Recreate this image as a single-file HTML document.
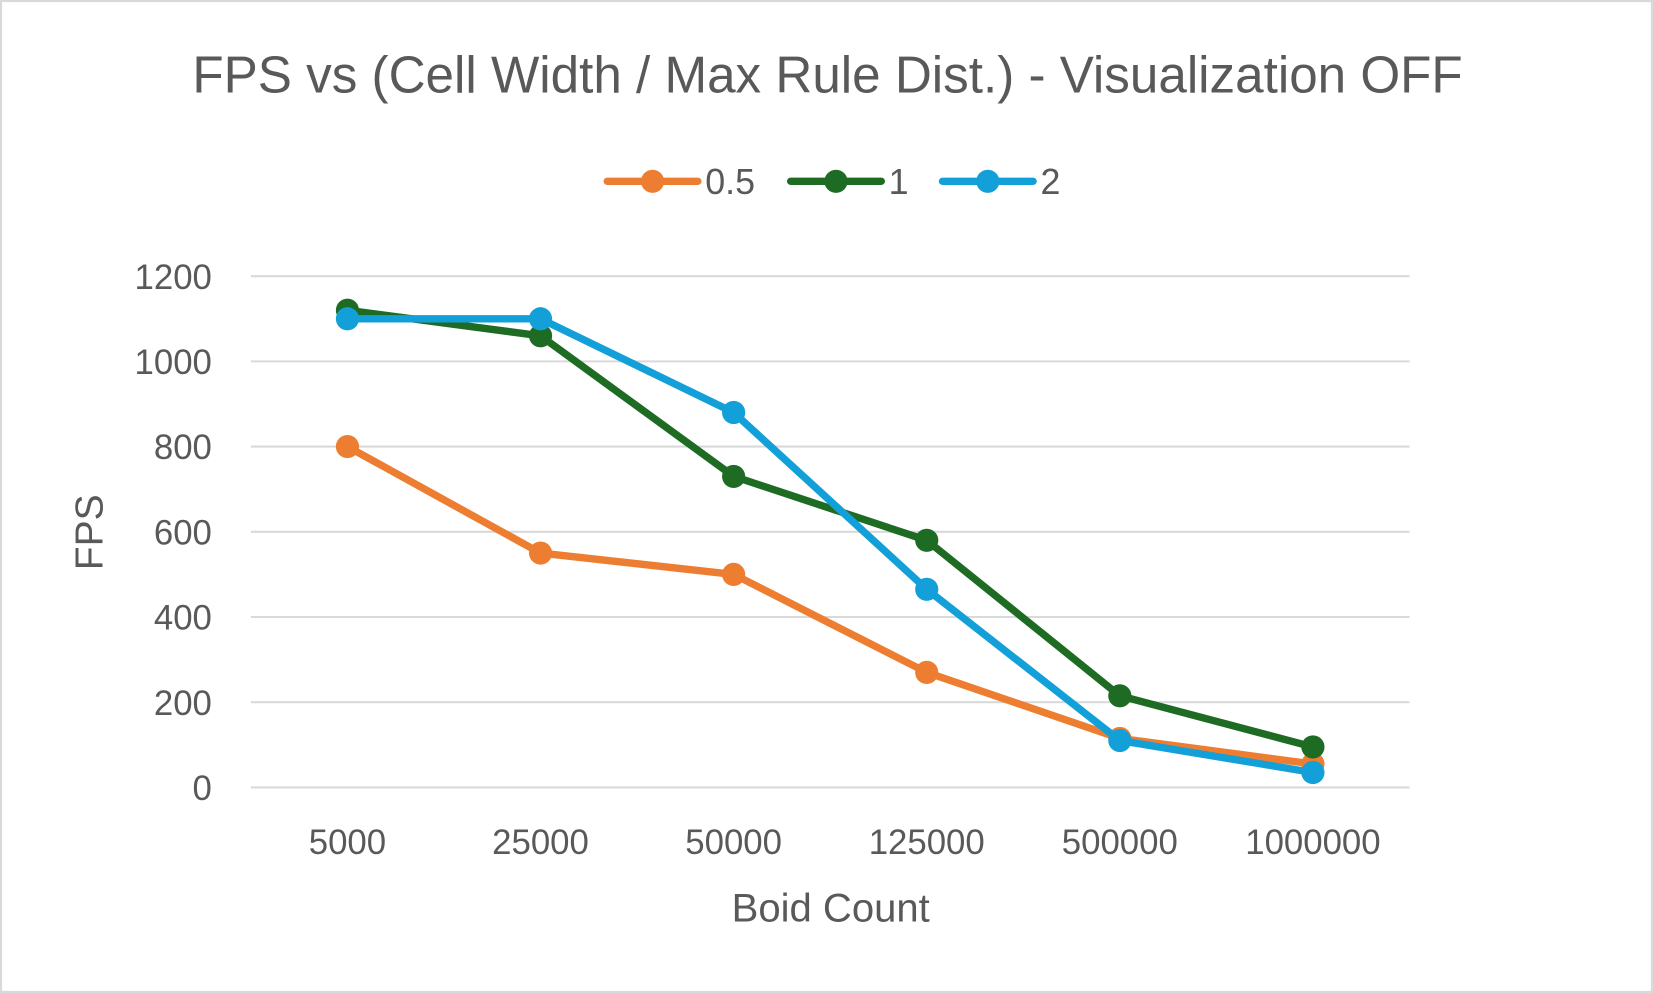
<!DOCTYPE html>
<html><head><meta charset="utf-8"><style>
html,body{margin:0;padding:0;background:#fff;overflow:hidden}
#wrap{width:1568px;height:942px;transform:scale(1.0542,1.0541);transform-origin:0 0;position:relative}
svg text{font-family:"Liberation Sans",sans-serif;fill:#595959}
</style></head><body>
<div id="wrap">
<svg id="chart" width="1568" height="942">
<rect x="1" y="1" width="1566" height="940" fill="#fff" stroke="#d9d9d9" stroke-width="2"/>
<text x="785" y="88" font-size="49" text-anchor="middle" textLength="1205" lengthAdjust="spacingAndGlyphs">FPS vs (Cell Width / Max Rule Dist.) - Visualization OFF</text>
<g id="grid"></g>
<g id="yt"></g>
<g id="xt"></g>
<g id="series"></g>
<g id="legend"></g>
<text x="0" y="0" font-size="37" text-anchor="middle" transform="translate(97,505) rotate(-90)">FPS</text>
<text x="788" y="874" font-size="38" text-anchor="middle">Boid Count</text>
</svg></div>
<script>
const categories=["5000","25000","50000","125000","500000","1000000"];
const yTicks=[0,200,400,600,800,1000,1200];
const seriesNames=["0.5","1","2"];
const s05=[800,550,500,270,115,55];
const s1=[1120,1060,730,580,215,95];
const s2=[1100,1100,880,465,110,35];
const colors=["#ed7d31","#1e6b23","#13a0d9"];
const NS="http://www.w3.org/2000/svg";
const L=238,R=1337,T=262,B=747,ymax=1200;
function y(v){return B-(v/ymax)*(B-T);}
function x(i){return L+(R-L)/categories.length*(i+0.5);}
function mk(tag,attrs,parent){const e=document.createElementNS(NS,tag);for(const k in attrs)e.setAttribute(k,attrs[k]);parent.appendChild(e);return e;}
const grid=document.getElementById('grid'),yt=document.getElementById('yt'),xt=document.getElementById('xt'),sg=document.getElementById('series'),lg=document.getElementById('legend');
yTicks.forEach(v=>{
 const l=mk('line',{x1:L,x2:R,y1:y(v),y2:y(v),stroke:'#d9d9d9','stroke-width':2},grid);
 
 
 const t=mk('text',{x:201,y:y(v)+12,'font-size':33,'text-anchor':'end'},yt);
 t.textContent=v;
 
 
});
categories.forEach((c,i)=>{
 const t=mk('text',{x:x(i),y:810,'font-size':33,'text-anchor':'middle'},xt);
 t.textContent=c;
 
 
});
[s05,s1,s2].forEach((d,si)=>{
 const g=mk('g',{},sg);
 
 
 const p=mk('polyline',{points:d.map((v,i)=>x(i)+','+y(v)).join(' '),fill:'none',stroke:colors[si],'stroke-width':7,'stroke-linejoin':'round'},g);
 
 
 d.forEach((v,i)=>{
  const c=mk('circle',{cx:x(i),cy:y(v),r:11,fill:colors[si]},g);
  
  
 });
});
const lx=[576,750,894];
seriesNames.forEach((n,i)=>{
 const g=mk('g',{},lg);
 
 
 mk('line',{x1:lx[i],x2:lx[i]+86,y1:172,y2:172,stroke:colors[i],'stroke-width':7,'stroke-linecap':'round'},g);
 mk('circle',{cx:lx[i]+43,cy:172,r:11,fill:colors[i]},g);
 const t=mk('text',{x:lx[i]+93,y:184,'font-size':34},g);
 t.textContent=n;
});
</script>
</body></html>
